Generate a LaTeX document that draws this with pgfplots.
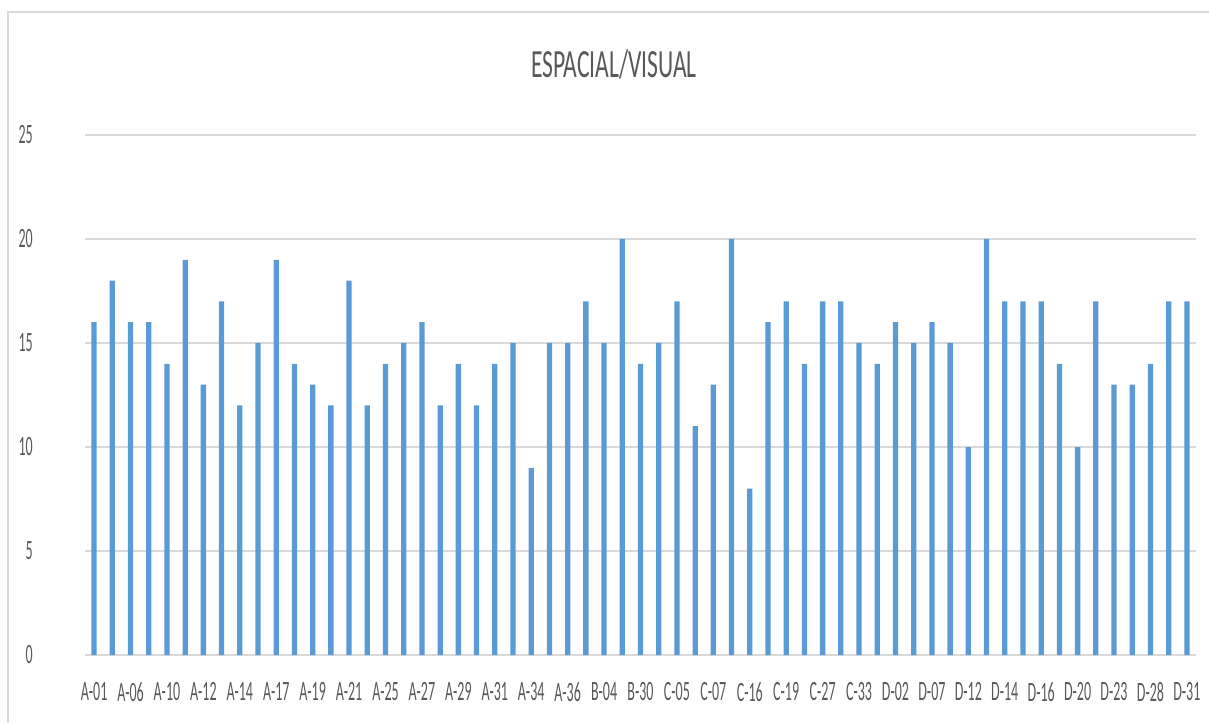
\documentclass[border=0pt]{standalone}
\usepackage{fontspec}
\setmainfont{Carlito}
\newfontfamily\tickfont[FakeStretch=0.5]{Carlito}
\newfontfamily\titlefont[FakeStretch=0.59]{Carlito}
\usepackage{pgfplots}
\pgfplotsset{compat=1.18}
\definecolor{barblue}{HTML}{5B9BD5}
\definecolor{gridgray}{HTML}{D9D9D9}
\definecolor{txt}{HTML}{595959}
\begin{document}
\begin{tikzpicture}
\path[use as bounding box] (0pt,0pt) rectangle (1209pt,723pt);
\draw[gridgray, line width=2pt] (8pt,0pt) -- (8pt,711pt) -- (1209pt,711pt);
\node[txt, font=\titlefont\fontsize{40}{44}\selectfont, anchor=base, inner sep=0pt] at (614pt,645pt) {ESPACIAL/VISUAL};
\begin{axis}[
  at={(85pt,68pt)}, anchor=south west,
  scale only axis, width=1111pt, height=520pt,
  xmin=-0.5, xmax=60.5, ymin=0, ymax=25,
  ytick={0,5,...,25},
  xtick={0,2,...,60},
  xticklabels={A-01,A-06,A-10,A-12,A-14,A-17,A-19,A-21,A-25,A-27,A-29,A-31,A-34,A-36,B-04,B-30,C-05,C-07,C-16,C-19,C-27,C-33,D-02,D-07,D-12,D-14,D-16,D-20,D-23,D-28,D-31},
  ymajorgrids, grid style={gridgray, line width=1.5pt},
  axis line style={draw=none}, tick style={draw=none}, major tick length=0pt,
  /pgf/number format/assume math mode=true,
  ticklabel style={txt, font=\tickfont\fontsize{28}{30}\selectfont, inner sep=0pt},
  yticklabel style={anchor=east, xshift=-52pt},
  xticklabel style={anchor=north, yshift=-27pt},
]
\addplot[ybar, bar width=0.29, fill=barblue, draw=none] coordinates {
(0,16) (1,18) (2,16) (3,16) (4,14) (5,19) (6,13) (7,17) (8,12) (9,15)
(10,19) (11,14) (12,13) (13,12) (14,18) (15,12) (16,14) (17,15) (18,16) (19,12)
(20,14) (21,12) (22,14) (23,15) (24,9) (25,15) (26,15) (27,17) (28,15) (29,20)
(30,14) (31,15) (32,17) (33,11) (34,13) (35,20) (36,8) (37,16) (38,17) (39,14)
(40,17) (41,17) (42,15) (43,14) (44,16) (45,15) (46,16) (47,15) (48,10) (49,20)
(50,17) (51,17) (52,17) (53,14) (54,10) (55,17) (56,13) (57,13) (58,14) (59,17)
(60,17)};
\end{axis}
\end{tikzpicture}
\end{document}
